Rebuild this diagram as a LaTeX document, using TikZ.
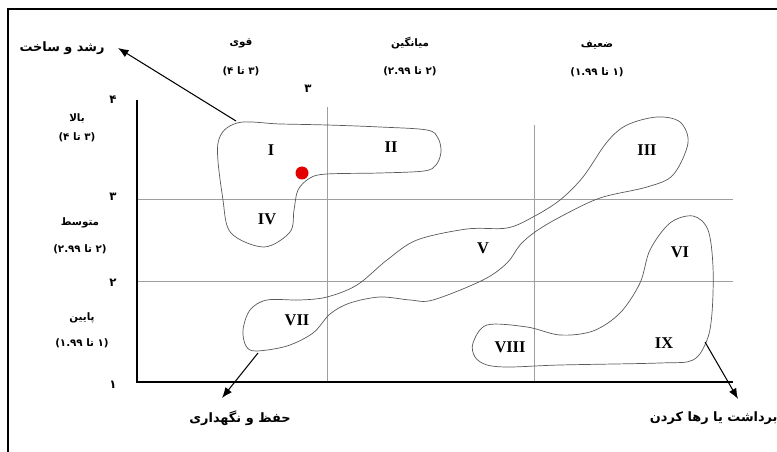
\documentclass[tikz,border=0pt]{standalone}
\usepackage{fontspec}
\setmainfont{Liberation Serif}
\newfontfamily\fa[Script=Arabic]{DejaVu Sans}
\newfontfamily\fanum{DejaVu Sans}
\TeXXeTstate=1
\usetikzlibrary{positioning, arrows.meta}

\tikzset{
  gridline/.style={gray!75, line width=0.7pt},
  axisline/.style={black, line width=1.5pt},
  blob/.style={black!65, line width=0.6pt},
  farsi/.style={font=\fa\bfseries\fontsize{8.8}{10}\selectfont, inner sep=1pt},
  strategy/.style={font=\fa\bfseries\fontsize{11}{13}\selectfont, inner sep=1pt},
  axisnum/.style={font=\fanum\bfseries\fontsize{10}{12}\selectfont, inner sep=1pt},
  roman/.style={font=\bfseries\fontsize{14}{16}\selectfont, inner sep=1pt},
  pointer/.style={-{Latex[length=9pt,width=7pt]}, line width=0.9pt},
}

\begin{document}
\begin{tikzpicture}[x=0.03cm, y=-0.03cm]

		\useasboundingbox (0,0) rectangle (777,452);

		% Frame
		\draw[line width=1.2pt] (8,460) -- (8,9) -- (790,9);

		% Grid
		\draw[gridline] (327,107) -- (327,382);
		\draw[gridline] (534,125) -- (534,382);
		\draw[gridline] (137,199) -- (733,199);
		\draw[gridline] (137,281) -- (733,281);
		\draw[axisline] (137,100) -- (137,382) -- (733,382);

		% Axis numbers
		\node[axisnum] (n4) at (113,100) {۴};
		\node[axisnum] (n3) at (113,197) {۳};
		\node[axisnum] (n2) at (113,283) {۲};
		\node[axisnum] (n1) at (113,385) {۱};
		\node[axisnum] (top3) at (308,89) {۳};

		% Column labels
		\node[farsi] (strong) at (241,43) {\beginR قوی\endR};
		\node[farsi] (strongR) at (241,71) {{\fanum(}\beginR{\fanum ۳} تا {\fanum ۴}\endR{\fanum)}};
		\node[farsi] (mid) at (410,43) {\beginR میانگین\endR};
		\node[farsi] (midR) at (410,71) {{\fanum(}\beginR{\fanum ۲} تا \beginL{\fanum ۲.۹۹}\endL\endR{\fanum)}};
		\node[farsi] (weak) at (597,45) {\beginR ضعیف\endR};
		\node[farsi] (weakR) at (597,72) {{\fanum(}\beginR{\fanum ۱} تا \beginL{\fanum ۱.۹۹}\endL\endR{\fanum)}};

		% Row labels
		\node[farsi] (high) at (77,118) {\beginR بالا\endR};
		\node[farsi] (highR) at (77,137) {{\fanum(}\beginR{\fanum ۳} تا {\fanum ۴}\endR{\fanum)}};
		\node[farsi] (avg) at (80,223) {\beginR متوسط\endR};
		\node[farsi] (avgR) at (80,249) {{\fanum(}\beginR{\fanum ۲} تا \beginL{\fanum ۲.۹۹}\endL\endR{\fanum)}};
		\node[farsi] (low) at (82,318) {\beginR پایین\endR};
		\node[farsi] (lowR) at (82,343) {{\fanum(}\beginR{\fanum ۱} تا \beginL{\fanum ۱.۹۹}\endL\endR{\fanum)}};

		% Blobs
		\draw[blob] plot[smooth cycle, tension=0.55] coordinates {(237,123) (280,124) (327,125) (380,127) (427,130) (438,138) (441,152) (436,165) (424,171) (380,173) (327,174) (310,178) (298,190) (294,210) (290,232) (264,247) (231,233) (223,200) (218,143)};
		\draw[blob] plot[smooth cycle, tension=0.55] coordinates {(256,351) (287,346) (313,333) (330,314) (350,303) (380,297) (410,300) (433,300) (483,280) (507,263) (520,245) (535,232) (560,217) (600,198) (647,187) (673,175) (688,143) (680,122) (657,117) (627,125) (607,142) (583,177) (560,200) (533,217) (507,228) (467,229) (417,240) (387,260) (357,285) (327,297) (300,300) (267,300) (250,310) (243,330) (246,346)};
		\draw[blob] plot[smooth cycle, tension=0.55] coordinates {(473,343) (487,325) (527,327) (560,335) (593,331) (620,313) (640,283) (650,250) (670,223) (693,216) (708,230) (713,267) (712,313) (707,340) (693,360) (660,363) (560,365) (510,367) (487,365) (475,357)};

		% Red point
		\fill[red!90!black] (302,173) circle (6.5);

		% Cell numbers
		\node[roman] (c1) at (271,150) {I};
		\node[roman] (c2) at (391,147) {II};
		\node[roman] (c3) at (647,150) {III};
		\node[roman] (c4) at (267,219) {IV};
		\node[roman] (c5) at (483,248) {V};
		\node[roman] (c6) at (680,252) {VI};
		\node[roman] (c7) at (297,320) {VII};
		\node[roman] (c8) at (510,347) {VIII};
		\node[roman] (c9) at (664,343) {IX};

		% Strategies
		\node[strategy] (grow) at (62,48) {\beginR رشد و ساخت\endR};
		\node[strategy] (keep) at (240,418) {\beginR حفظ و نگهداری\endR};
		\node[strategy, anchor=east] (drop) at (779,418) {\beginR برداشت یا رها کردن\endR};

		\coordinate (growFrom) at (236,121);
		\coordinate (growTo) at (118,48);
		\coordinate (keepFrom) at (258,353);
		\coordinate (keepTo) at (222,398);
		\coordinate (dropFrom) at (705,342);
		\coordinate (dropTo) at (738,399);
		\draw[pointer] (growFrom) -- (growTo);
		\draw[pointer] (keepFrom) -- (keepTo);
		\draw[pointer] (dropFrom) -- (dropTo);

\end{tikzpicture}
\end{document}
